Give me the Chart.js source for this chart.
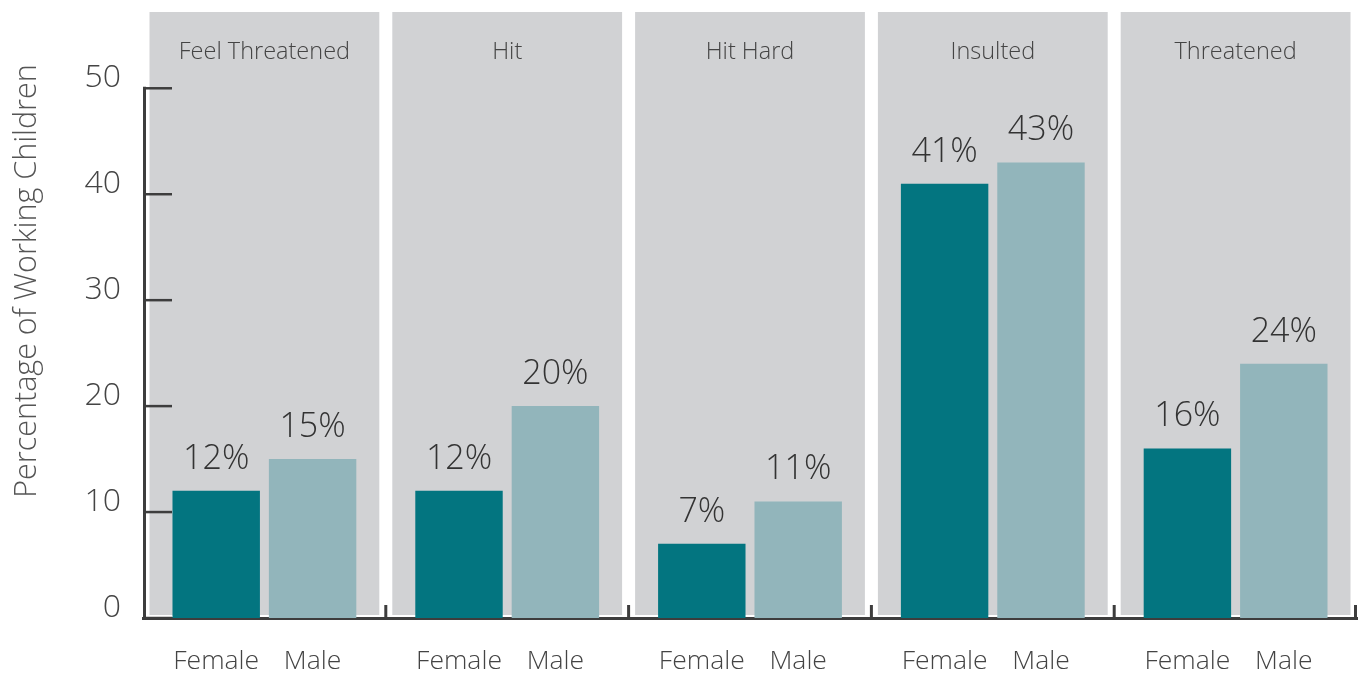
<!DOCTYPE html>
<html>
<head>
<meta charset="utf-8">
<script src="https://cdn.jsdelivr.net/npm/chart.js@4/dist/chart.umd.min.js"></script>
<style>
html,body{margin:0;padding:0;background:#fff;}
#wrap{width:1360px;height:675px;position:relative;}
</style>
</head>
<body>
<div id="wrap"><canvas id="c" width="1360" height="675"></canvas></div>
<script>
const categories = ['Feel Threatened', 'Hit', 'Hit Hard', 'Insulted', 'Threatened'];
const seriesNames = ['Female', 'Male'];
const femaleValues = [12, 12, 7, 41, 16];
const maleValues = [15, 20, 11, 43, 24];
const yTickValues = [0, 10, 20, 30, 40, 50];
const yTitle = 'Percentage of Working Children';

const FONT = '"Open Sans", "DejaVu Sans", sans-serif';
const femaleColor = '#037580';
const maleColor = '#92b5bb';
const panelColor = '#d1d2d4';
const axisColor = '#3d3d3d';

const facetPlugin = {
  id: 'facets',
  beforeDraw(chart) {
    const ctx = chart.ctx, x = chart.scales.x, area = chart.chartArea;
    const w = (area.right - area.left) / categories.length;
    ctx.save();
    ctx.fillStyle = panelColor;
    categories.forEach((c, i) => {
      const cx = x.getPixelForValue(i);
      ctx.fillRect(cx - w / 2 + 6.5, area.top, w - 13, area.bottom - area.top - 3);
    });
    ctx.fillStyle = '#444';
    ctx.font = '300 23.5px ' + FONT;
    ctx.textAlign = 'center';
    ctx.textBaseline = 'middle';
    categories.forEach((c, i) => {
      ctx.fillText(c, x.getPixelForValue(i), area.top + 40);
    });
    ctx.restore();
  },
  beforeDatasetsDraw(chart) {
    const ctx = chart.ctx, x = chart.scales.x, y = chart.scales.y, area = chart.chartArea;
    const w = (area.right - area.left) / categories.length;
    ctx.save();
    ctx.strokeStyle = axisColor;
    ctx.lineWidth = 3;
    ctx.lineCap = 'butt';
    // y axis line
    ctx.beginPath();
    ctx.moveTo(area.left + 1.5, y.getPixelForValue(50) - 1.5);
    ctx.lineTo(area.left + 1.5, area.bottom);
    ctx.stroke();
    ctx.lineWidth = 2.5;
    yTickValues.forEach(v => {
      const py = y.getPixelForValue(v);
      ctx.beginPath();
      ctx.moveTo(area.left, py);
      ctx.lineTo(area.left + 29, py);
      ctx.stroke();
    });
    // boundary ticks
    ctx.lineWidth = 3;
    for (let i = 1; i <= categories.length; i++) {
      const bx = Math.min(x.getPixelForValue(i - 1) + w / 2, area.right - 1.5);
      ctx.beginPath();
      ctx.moveTo(bx, area.bottom);
      ctx.lineTo(bx, area.bottom - 13);
      ctx.stroke();
    }
    ctx.restore();
  },
  afterDatasetsDraw(chart) {
    const ctx = chart.ctx, area = chart.chartArea;
    ctx.save();
    chart.data.datasets.forEach((ds, di) => {
      const meta = chart.getDatasetMeta(di);
      meta.data.forEach((bar, i) => {
        ctx.fillStyle = '#333';
        ctx.font = '300 34px ' + FONT;
        ctx.textAlign = 'center';
        ctx.textBaseline = 'alphabetic';
        ctx.fillText(ds.data[i] + '%', bar.x, bar.y - 22);
        ctx.fillStyle = '#444';
        ctx.font = '300 26.5px ' + FONT;
        ctx.textBaseline = 'middle';
        ctx.fillText(seriesNames[di], bar.x, area.bottom + 43);
      });
    });
    // y title
    ctx.translate(27, 281);
    ctx.rotate(-Math.PI / 2);
    ctx.fillStyle = '#555';
    ctx.font = '300 30.5px ' + FONT;
    ctx.textAlign = 'center';
    ctx.textBaseline = 'middle';
    ctx.fillText(yTitle, 0, 0);
    ctx.restore();
  }
};

new Chart(document.getElementById('c'), {
  type: 'bar',
  data: {
    labels: categories,
    datasets: [
      { label: seriesNames[0], data: femaleValues, backgroundColor: femaleColor, categoryPercentage: 0.794, barPercentage: 0.907 },
      { label: seriesNames[1], data: maleValues, backgroundColor: maleColor, categoryPercentage: 0.794, barPercentage: 0.907 }
    ]
  },
  options: {
    responsive: false,
    animation: false,
    layout: { padding: { top: 12, right: 3, left: 0, bottom: 0 } },
    plugins: { legend: { display: false }, tooltip: { enabled: false } },
    scales: {
      x: {
        type: 'category',
        offset: true,
        grid: { display: false },
        border: { display: true, color: axisColor, width: 3 },
        ticks: { display: false },
        afterFit(s) { s.height = 57; s.paddingLeft = 0; s.paddingRight = 0; }
      },
      y: {
        min: 0,
        max: 57.2,
        grid: { display: false, drawTicks: false },
        border: { display: false },
        afterBuildTicks(s) { s.ticks = yTickValues.map(v => ({ value: v })); },
        ticks: {
          padding: 22,
          labelOffset: -10,
          color: '#444',
          font: { family: FONT, size: 32, weight: '300' },
          callback: v => String(v)
        },
        afterFit(s) { s.width = 143; s.paddingTop = 0; s.paddingBottom = 0; }
      }
    }
  },
  plugins: [facetPlugin]
});
</script>
</body>
</html>
